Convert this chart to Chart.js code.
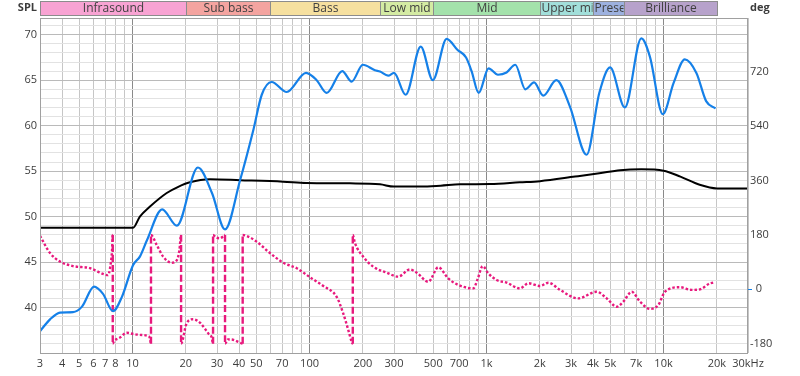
<!DOCTYPE html>
<html>
<head>
<meta charset="utf-8">
<script src="https://cdn.jsdelivr.net/npm/chart.js@4.4.1/dist/chart.umd.min.js"></script>
<style>
  body { margin: 0; background: #fff; }
  canvas { display: block; }
</style>
</head>
<body>
<canvas id="grafica" width="800" height="376"></canvas>
<script>
// measured response (SPL, left axis)
const splFreq = [3, 3.42, 3.89, 4.61, 5.18, 6.06, 6.81, 7.75, 8.72, 10.06, 11.0, 12.06, 14.7, 17.8, 23.4, 28.1, 33.3, 40.5, 48.1, 53.7, 61.1, 74.3, 95.5, 109.7, 125, 153, 173, 200, 234, 250, 278, 300, 349, 425, 497, 595, 684, 766, 823, 903, 1027, 1160, 1297, 1453, 1656, 1855, 2090, 2478, 2958, 3675, 4335, 4990, 6043, 7489, 8370, 9906, 11400, 13190, 15330, 17400, 19680];
const splValues = [37.4, 38.7, 39.45, 39.5, 40.1, 42.3, 41.5, 39.6, 41.2, 44.66, 45.6, 47.4, 50.8, 49.0, 55.4, 52.6, 48.6, 54.0, 59.5, 63.4, 64.8, 63.7, 65.8, 65.0, 63.6, 66.0, 64.85, 66.7, 66.1, 65.95, 65.5, 65.8, 63.4, 68.7, 65.0, 69.55, 68.35, 67.5, 66.0, 63.6, 66.3, 65.6, 65.85, 66.7, 64.0, 64.75, 63.3, 65.0, 62.1, 56.8, 63.6, 66.4, 62.0, 69.6, 67.6, 61.26, 64.7, 67.3, 65.8, 62.7, 61.9];

// black curve (left axis)
const targetFreq = [3, 10.06, 11.0, 12.5, 15.6, 18.0, 21.1, 27.4, 40.5, 70.9, 96, 169, 250, 300, 425, 550, 708, 1050, 1540, 2005, 3163, 4335, 5680, 7489, 10000, 12450, 16000, 20000, 30000];
const targetValues = [48.77, 48.77, 50.0, 51.08, 52.6, 53.25, 53.77, 54.1, 54.0, 53.84, 53.7, 53.66, 53.55, 53.3, 53.3, 53.4, 53.55, 53.58, 53.77, 53.9, 54.4, 54.76, 55.1, 55.2, 55.05, 54.4, 53.5, 53.1, 53.1];

// phase (deg, right axis) - repeated frequency = wrap
const phaseFreq = [3, 3.42, 3.89, 4.61, 5.75, 6.81, 7.26, 7.46, 7.66, 7.73, 7.73, 7.85, 8.49, 9.27, 10.1, 11.0, 12.27, 12.54, 12.71, 12.71, 13.7, 14.9, 16.6, 17.8, 18.4, 18.8, 18.8, 20.2, 22.0, 24.1, 26.8, 28.0, 28.5, 28.5, 29.6, 31.2, 32.6, 33.3, 33.3, 34.6, 36.9, 39.6, 41.9, 41.9, 44.1, 50.2, 59.8, 71.1, 84.6, 100.6, 119.6, 142.3, 155, 165.6, 173, 175.5, 175.5, 180.6, 201, 229, 273, 317, 369, 403, 469, 534, 608, 678, 842, 887, 951, 1023, 1140, 1300, 1545, 1722, 2005, 2235, 2600, 3297, 4188, 4773, 5436, 5925, 6609, 7365, 8384, 9337, 10190, 12390, 14420, 16070, 18300, 19100];
const phaseValues = [177, 120, 92, 77, 70, 51, 47, 70, 130, 180, -180, -172, -160, -144, -148, -151, -155, -162, -180, 180, 147, 108, 88, 97, 130, 180, -180, -113, -99, -111, -146, -159, -180, 180, 172, 169, 176, 180, -180, -166, -167, -174, -180, 180, 177, 158, 120, 88, 70, 40, 11, -25, -80, -135, -174, -180, 180, 153, 108, 75, 55, 42, 66, 55, 25, 73, 36, 17, 3, 31, 77, 53, 31, 22, 3, 20, 11, 22, -2, -30, -8, -30, -58, -41, -8, -41, -65, -52, -8, 7, -2, 0, 20, 22];

// frequency bands on top
const bandNames = ['Infrasound', 'Sub bass', 'Bass', 'Low mid', 'Mid', 'Upper mid', 'Presence', 'Brilliance'];
const bandEdges = [3, 20, 60, 250, 500, 2000, 4000, 6000, 20000];
const bandColors = ['#f8a3d3', '#f4a4a0', '#f6e09f', '#d4eba3', '#a4e2ab', '#a2dfda', '#9db1df', '#b7a2cb'];

// axes ticks
const gridFreqs = [3, 4, 5, 6, 7, 8, 9, 10, 20, 30, 40, 50, 60, 70, 80, 90, 100, 200, 300, 400, 500, 600, 700, 800, 900, 1000, 2000, 3000, 4000, 5000, 6000, 7000, 8000, 9000, 10000, 20000, 30000];
const labelFreqs = [3, 4, 5, 6, 7, 8, 10, 20, 30, 40, 50, 70, 100, 200, 300, 500, 700, 1000, 2000, 3000, 4000, 5000, 7000, 10000, 20000, 30000];
const freqTickLabels = ['3', '4', '5', '6', '7', '8', '10', '20', '30', '40', '50', '70', '100', '200', '300', '500', '700', '1k', '2k', '3k', '4k', '5k', '7k', '10k', '20k', '30kHz'];
const splTicks = [40, 45, 50, 55, 60, 65, 70];
const degTicks = [-180, 0, 180, 360, 540, 720];

const fuente = { family: "'Open Sans', sans-serif", size: 11 };
const colorTexto = '#3c3c3c';
const azul = '#1580e8';
const rosa = '#e8197d';

function puntos(xs, ys) {
    return xs.map((x, i) => ({ x: x, y: ys[i] }));
}

const decorado = {
    id: 'decorado',
    afterDraw(chart) {
        const ctx = chart.ctx;
        const a = chart.chartArea;
        const xs = chart.scales.x;
        // frame
        ctx.save();
        ctx.strokeStyle = '#a0a0a0';
        ctx.lineWidth = 1;
        ctx.strokeRect(Math.round(a.left) + 0.5, Math.round(a.top) + 0.5, Math.round(a.right - a.left) - 1, Math.round(a.bottom - a.top));
        // bands
        ctx.font = "12px 'Open Sans', sans-serif";
        ctx.textBaseline = 'middle';
        for (let i = 0; i < bandNames.length; i++) {
            const x0 = Math.round(xs.getPixelForValue(bandEdges[i])) + 0.5;
            const x1 = Math.round(xs.getPixelForValue(bandEdges[i + 1])) + 0.5;
            ctx.fillStyle = bandColors[i];
            ctx.fillRect(x0, 1.5, x1 - x0, 14);
            ctx.save();
            ctx.beginPath();
            ctx.rect(x0 + 1, 1.5, x1 - x0 - 2, 14);
            ctx.clip();
            const w = ctx.measureText(bandNames[i]).width;
            const tx = Math.max(x0 + 1, (x0 + x1) / 2 - w / 2);
            ctx.fillStyle = '#404040';
            ctx.fillText(bandNames[i], tx, 9);
            ctx.restore();
            ctx.strokeStyle = '#8c8c8c';
            ctx.strokeRect(x0, 1.5, x1 - x0, 14);
        }
        // axis titles
        ctx.font = "bold 11px 'Open Sans', sans-serif";
        ctx.fillStyle = '#3c3c3c';
        ctx.textAlign = 'right';
        ctx.fillText('SPL', 37, 8);
        ctx.textAlign = 'left';
        ctx.fillText('deg', 750, 8);
        ctx.restore();
    }
};

new Chart(document.getElementById('grafica'), {
    type: 'line',
    data: {
        datasets: [{
            label: 'SPL',
            data: puntos(splFreq, splValues),
            borderColor: azul,
            borderWidth: 2.2,
            yAxisID: 'y',
            cubicInterpolationMode: 'monotone'
        }, {
            label: 'Target',
            data: puntos(targetFreq, targetValues),
            borderColor: '#000000',
            borderWidth: 2,
            yAxisID: 'y',
            cubicInterpolationMode: 'monotone'
        }, {
            label: 'Phase',
            data: puntos(phaseFreq, phaseValues),
            borderColor: rosa,
            borderWidth: 2.4,
            borderCapStyle: 'butt',
            yAxisID: 'y2',
            cubicInterpolationMode: 'monotone',
            segment: {
                borderDash: c => c.p0.parsed.x === c.p1.parsed.x ? [7, 3] : [2.5, 2]
            }
        }]
    },
    options: {
        responsive: false,
        animation: false,
        devicePixelRatio: 1,
        layout: { padding: { top: 18, left: 0, right: 0, bottom: 0 } },
        elements: { point: { radius: 0 } },
        plugins: { legend: { display: false }, tooltip: { enabled: false } },
        scales: {
            x: {
                type: 'logarithmic',
                min: 3,
                max: 30000,
                afterBuildTicks: s => { s.ticks = gridFreqs.map(v => ({ value: v })); },
                afterFit: s => { s.height = 23; },
                border: { display: false },
                grid: {
                    drawTicks: false,
                    color: c => [10, 100, 1000, 10000].includes(c.tick.value) ? '#8a8a8a' : '#c6c6c6'
                },
                ticks: {
                    autoSkip: false,
                    maxRotation: 0,
                    padding: 4,
                    color: colorTexto,
                    font: fuente,
                    callback: v => {
                        const i = labelFreqs.indexOf(v);
                        return i >= 0 ? freqTickLabels[i] : '';
                    }
                }
            },
            y: {
                position: 'left',
                min: 35,
                max: 71.84,
                afterBuildTicks: s => {
                    const t = [];
                    for (let v = 35; v <= 71; v++) t.push({ value: v });
                    s.ticks = t;
                },
                afterFit: s => { s.width = 40; },
                border: { display: false },
                grid: {
                    drawTicks: false,
                    color: c => c.tick.value % 5 === 0 ? '#bababa' : '#e2e2e2'
                },
                ticks: {
                    autoSkip: false,
                    padding: 3,
                    color: colorTexto,
                    font: fuente,
                    callback: v => splTicks.includes(v) ? String(v) : ''
                }
            },
            y2: {
                position: 'right',
                min: -211,
                max: 899,
                afterBuildTicks: s => { s.ticks = degTicks.map(v => ({ value: v })); },
                afterFit: s => { s.width = 52; },
                border: { display: false },
                grid: {
                    drawOnChartArea: false,
                    drawTicks: true,
                    tickLength: 4,
                    tickColor: c => c.tick && c.tick.value === 0 ? azul : 'rgba(0,0,0,0)'
                },
                ticks: {
                    autoSkip: false,
                    padding: -2,
                    color: colorTexto,
                    font: fuente,
                    callback: v => v === 0 ? '  0' : String(v)
                }
            }
        }
    },
    plugins: [decorado]
});
</script>
</body>
</html>
